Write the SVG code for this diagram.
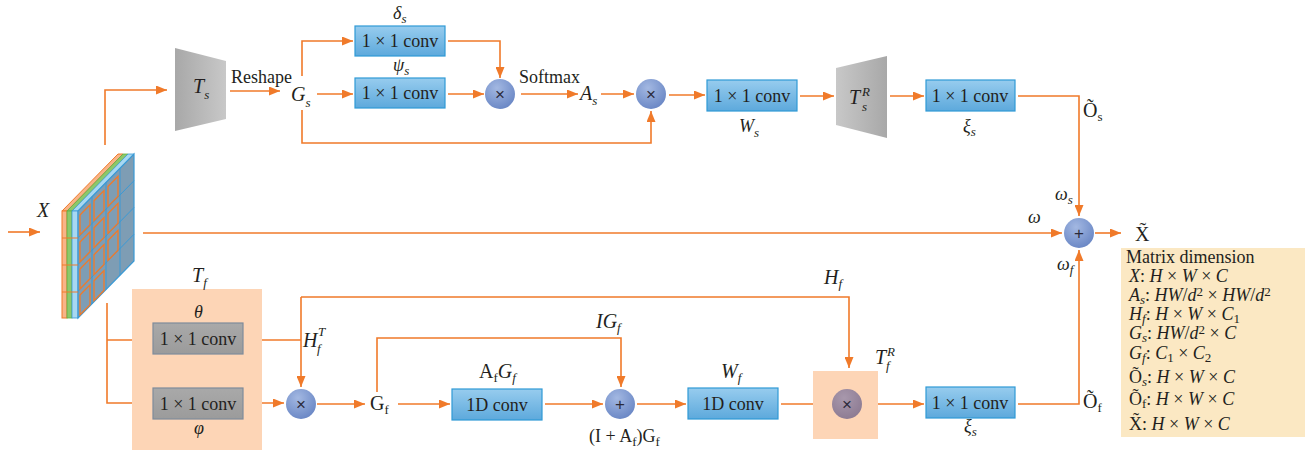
<svg xmlns="http://www.w3.org/2000/svg" width="1306" height="450" viewBox="0 0 1306 450">
<defs>
<style>
.o{stroke:#F07A2A;stroke-width:1.6;fill:none}
.a{marker-end:url(#ah)}
.bx{fill:url(#gBlue);stroke:#2F9AD6;stroke-width:1.2}
.gb{fill:url(#gGray);stroke:#7F8C9B;stroke-width:1.2}
.ci{fill:url(#gCirc)}
.t{font-family:"Liberation Serif","Times New Roman",serif;font-size:18px;fill:#231F20}
.big{font-size:20px}
.lg{font-size:18px}
.i{font-style:italic}
.m{text-anchor:middle}
.s{font-size:13px}
.op{font-family:"Liberation Sans",sans-serif;font-size:17px;fill:#2A2A3A;text-anchor:middle}
</style>
<marker id="ah" markerUnits="userSpaceOnUse" markerWidth="11" markerHeight="9" refX="11" refY="4.5" orient="auto">
<path d="M0,0 L11,4.5 L0,9 z" fill="#F07A2A"/>
</marker>
<linearGradient id="gBlue" x1="0" y1="0" x2="0" y2="1"><stop offset="0" stop-color="#97CCEE"/><stop offset="1" stop-color="#5DA9DC"/></linearGradient>
<linearGradient id="gGray" x1="0" y1="0" x2="0" y2="1"><stop offset="0" stop-color="#A9A9A9"/><stop offset="1" stop-color="#9B9B9B"/></linearGradient>
<linearGradient id="gTs" x1="0" y1="0" x2="1" y2="0"><stop offset="0" stop-color="#A8A8A8"/><stop offset="1" stop-color="#C8C8C8"/></linearGradient>
<linearGradient id="gTsR" x1="0" y1="0" x2="1" y2="0"><stop offset="0" stop-color="#C8C8C8"/><stop offset="1" stop-color="#A8A8A8"/></linearGradient>
<radialGradient id="gCirc" cx="0.4" cy="0.3" r="0.8"><stop offset="0" stop-color="#A3B8E2"/><stop offset="1" stop-color="#6482C2"/></radialGradient>
<radialGradient id="gCirc2" cx="0.4" cy="0.3" r="0.8"><stop offset="0" stop-color="#A898AC"/><stop offset="1" stop-color="#8A7890"/></radialGradient>
</defs>

<!-- Input tensor X -->
<g id="tensorX">
  <polygon points="62,211 67,211 123,154 118,154" fill="#F8B488" stroke="#F07A2A" stroke-width="1"/>
  <polygon points="67,211 72,211 128,154 123,154" fill="#8CC86A" stroke="#5FAF45" stroke-width="0.8"/>
  <polygon points="72,211 78,211 134,154 128,154" fill="#A8D8F2" stroke="#3A9AD6" stroke-width="0.8"/>
  <rect x="62" y="211" width="5" height="107" fill="#F8B488" stroke="#F07A2A" stroke-width="1"/>
  <rect x="67" y="211" width="5" height="107" fill="#8CC86A" stroke="#5FAF45" stroke-width="0.8"/>
  <rect x="72" y="211" width="6" height="107" fill="#A8D8F2" stroke="#3A9AD6" stroke-width="0.8"/>
  <g transform="matrix(1,-1.018,0,1,78,211)">
    <rect x="0" y="0" width="56" height="107" fill="#7E9DB4" stroke="#3A9AD6" stroke-width="1.2" vector-effect="non-scaling-stroke"/>
    <path d="M14,0 V107 M28,0 V107 M42,0 V107 M0,26.75 H56 M0,53.5 H56 M0,80.25 H56" stroke="#3A9AD6" stroke-width="1" fill="none" vector-effect="non-scaling-stroke"/>
    <g stroke="#F07A2A" stroke-width="1.3" fill="none">
      <rect x="2" y="6" width="10" height="20" vector-effect="non-scaling-stroke"/>
      <rect x="16" y="6" width="10" height="20" vector-effect="non-scaling-stroke"/>
      <rect x="30" y="6" width="10" height="20" vector-effect="non-scaling-stroke"/>
      <rect x="2" y="33" width="10" height="20" vector-effect="non-scaling-stroke"/>
      <rect x="16" y="33" width="10" height="20" vector-effect="non-scaling-stroke"/>
      <rect x="30" y="33" width="10" height="20" vector-effect="non-scaling-stroke"/>
      <rect x="2" y="60" width="10" height="20" vector-effect="non-scaling-stroke"/>
      <rect x="16" y="60" width="10" height="20" vector-effect="non-scaling-stroke"/>
      <rect x="30" y="60" width="10" height="20" vector-effect="non-scaling-stroke"/>
      <rect x="2" y="86" width="10" height="20" vector-effect="non-scaling-stroke"/>
      <rect x="16" y="86" width="10" height="20" vector-effect="non-scaling-stroke"/>
    </g>
  </g>
  <path d="M62,238 H78 M62,265 H78 M62,292 H78" stroke="#F07A2A" stroke-width="1"/>
  <text class="t i big" x="37" y="217">X</text>
</g>

<!-- Connectors -->
<g id="connectors">
  <path class="o a" d="M8,232 H40"/>
  <path class="o a" d="M105,145 V90 H167"/>
  <path class="o a" d="M230,91 H280"/>
  <path class="o a" d="M302,76 V41 H353"/>
  <path class="o a" d="M317,94 H353"/>
  <path class="o a" d="M302,110 V143 H651 V111"/>
  <path class="o a" d="M448,41 H500 V78"/>
  <path class="o a" d="M448,94 H484"/>
  <path class="o a" d="M521,94 H578"/>
  <path class="o a" d="M601,94 H634"/>
  <path class="o a" d="M669,95 H705"/>
  <path class="o a" d="M800,96 H834"/>
  <path class="o a" d="M890,96 H924"/>
  <path class="o a" d="M1018,96 H1079 V216"/>
  <path class="o a" d="M143,233 H1062"/>
  <path class="o a" d="M1095,233 H1121"/>
  <path class="o a" d="M107,303 V403 H151"/>
  <path class="o a" d="M107,340 H151"/>
  <path class="o" d="M250,340 H301"/>
  <path class="o a" d="M301,297 V387"/>
  <path class="o a" d="M301,297 H849 V368"/>
  <path class="o a" d="M250,403 H284"/>
  <path class="o a" d="M317,404 H365"/>
  <path class="o a" d="M377,392 V338 H621 V387"/>
  <path class="o a" d="M398,404 H450"/>
  <path class="o a" d="M545,404 H603"/>
  <path class="o a" d="M637,404 H686"/>
  <path class="o a" d="M781,404 H830"/>
  <path class="o a" d="M865,404 H924"/>
  <path class="o a" d="M1018,404 H1079 V250"/>
</g>

<!-- Top branch -->
<g id="Ts">
  <polygon points="175,48 226,61 226,119 175,131" fill="url(#gTs)"/>
  <text class="t i big" x="193" y="93">T<tspan class="s" dy="6">s</tspan></text>
</g>
<g id="reshape"><text class="t" x="231" y="83">Reshape</text></g>
<g id="Gs"><text class="t i big" x="291" y="101">G<tspan class="s" dy="6">s</tspan></text></g>
<g id="delta">
  <rect class="bx" x="355" y="26" width="90" height="30"/>
  <text class="t m" x="400" y="47">1 × 1 conv</text>
  <text class="t i" x="393" y="19">δ<tspan class="s" dy="4">s</tspan></text>
</g>
<g id="psi">
  <rect class="bx" x="355" y="78" width="90" height="30"/>
  <text class="t m" x="400" y="99">1 × 1 conv</text>
  <text class="t i" x="393" y="71">ψ<tspan class="s" dy="4">s</tspan></text>
</g>
<g id="mul1"><circle class="ci" cx="500" cy="94" r="15"/><text class="op" x="500" y="100">×</text></g>
<g id="softmax"><text class="t" x="519" y="83">Softmax</text></g>
<g id="As"><text class="t i big" x="580" y="100">A<tspan class="s" dy="5">s</tspan></text></g>
<g id="mul2"><circle class="ci" cx="651" cy="94" r="15"/><text class="op" x="651" y="100">×</text></g>
<g id="Ws">
  <rect class="bx" x="707" y="80" width="90" height="31"/>
  <text class="t m" x="752" y="102">1 × 1 conv</text>
  <text class="t i" x="739" y="132">W<tspan class="s" dy="5">s</tspan></text>
</g>
<g id="TsR">
  <polygon points="836,68 887,56 887,138 836,125" fill="url(#gTsR)"/>
  <text class="t i big" x="849" y="104">T</text>
  <text class="t i s" x="862" y="96">R</text>
  <text class="t i s" x="862" y="111">s</text>
</g>
<g id="xi_top">
  <rect class="bx" x="926" y="80" width="89" height="31"/>
  <text class="t m" x="970" y="102">1 × 1 conv</text>
  <text class="t i" x="963" y="132">ξ<tspan class="s" dy="4">s</tspan></text>
</g>
<g id="Os"><text class="t big" x="1083" y="117">Õ<tspan class="s" dy="4">s</tspan></text></g>

<!-- Fusion -->
<g id="sum">
  <circle class="ci" cx="1079" cy="233" r="15"/><text class="op" x="1079" y="239">+</text>
  <text class="t i" x="1055" y="200">ω<tspan class="s" dy="4">s</tspan></text>
  <text class="t i" x="1028" y="223">ω</text>
  <text class="t i" x="1057" y="270">ω<tspan class="s" dy="4">f</tspan></text>
</g>
<g id="Xout"><text class="t big" x="1135" y="241">X̃</text></g>

<!-- Bottom branch -->
<g id="Tf">
  <rect x="132" y="289" width="130" height="161" fill="#FDD5B6"/>
  <text class="t i big" x="192" y="282">T<tspan class="s" dy="5">f</tspan></text>
  <rect class="gb" x="153" y="323" width="90" height="31"/>
  <text class="t m" x="198" y="345">1 × 1 conv</text>
  <text class="t i" x="194" y="318">θ</text>
  <rect class="gb" x="153" y="388" width="90" height="31"/>
  <text class="t m" x="198" y="410">1 × 1 conv</text>
  <text class="t i" x="194" y="434">φ</text>
</g>
<g id="HfT">
  <text class="t i big" x="303" y="347">H</text>
  <text class="t i s" x="318" y="336">T</text>
  <text class="t i s" x="317" y="353">f</text>
</g>
<g id="mul3"><circle class="ci" cx="301" cy="404" r="15"/><text class="op" x="301" y="410">×</text></g>
<g id="Gf"><text class="t big" x="370" y="410">G<tspan class="s" dy="4">f</tspan></text></g>
<g id="IGf"><text class="t i big" x="596" y="328">IG<tspan class="s" dy="4">f</tspan></text></g>
<g id="conv1d1">
  <rect class="bx" x="452" y="389" width="90" height="31"/>
  <text class="t m" x="497" y="411">1D conv</text>
  <text class="t big" x="479" y="378">A<tspan class="s" dy="4">f</tspan><tspan class="i" dy="-4">G</tspan><tspan class="s i" dy="4">f</tspan></text>
</g>
<g id="add2">
  <circle class="ci" cx="620" cy="404" r="15"/><text class="op" x="620" y="410">+</text>
  <text class="t" x="589" y="442">(I + A<tspan class="s" dy="4">f</tspan><tspan dy="-4">)G</tspan><tspan class="s" dy="4">f</tspan></text>
</g>
<g id="conv1d2">
  <rect class="bx" x="688" y="388" width="90" height="31"/>
  <text class="t m" x="733" y="410">1D conv</text>
  <text class="t i big" x="721" y="378">W<tspan class="s" dy="4">f</tspan></text>
</g>
<g id="Hf"><text class="t i big" x="824" y="284">H<tspan class="s" dy="4">f</tspan></text></g>
<g id="TfR">
  <rect x="813" y="371" width="65" height="68" fill="#FDD5B6"/>
  <circle cx="847" cy="404" r="15" fill="url(#gCirc2)"/><text class="op" x="847" y="410">×</text>
  <text class="t i big" x="875" y="364">T</text>
  <text class="t i s" x="887" y="356">R</text>
  <text class="t i s" x="886" y="370">f</text>
</g>
<g id="xi_bot">
  <rect class="bx" x="926" y="387" width="89" height="31"/>
  <text class="t m" x="970" y="409">1 × 1 conv</text>
  <text class="t i" x="964" y="432">ξ<tspan class="s" dy="4">s</tspan></text>
</g>
<g id="Of"><text class="t big" x="1083" y="408">Õ<tspan class="s" dy="4">f</tspan></text></g>

<!-- Legend -->
<g id="legend">
  <rect x="1121" y="248" width="184" height="189" fill="#FBE8C3"/>
  <text class="t lg" x="1126" y="263">Matrix dimension</text>
  <text class="t lg" x="1129" y="282"><tspan class="i">X</tspan>: <tspan class="i">H</tspan> × <tspan class="i">W</tspan> × <tspan class="i">C</tspan></text>
  <text class="t lg" x="1129" y="301"><tspan class="i">A</tspan><tspan class="i s" dy="3">s</tspan><tspan dy="-3">: </tspan><tspan class="i">HW</tspan>/<tspan class="i">d</tspan><tspan class="s" dy="-5">2</tspan><tspan dy="5"> × </tspan><tspan class="i">HW</tspan>/<tspan class="i">d</tspan><tspan class="s" dy="-5">2</tspan></text>
  <text class="t lg" x="1129" y="320"><tspan class="i">H</tspan><tspan class="i s" dy="3">f</tspan><tspan dy="-3">: </tspan><tspan class="i">H</tspan> × <tspan class="i">W</tspan> × <tspan class="i">C</tspan><tspan class="s" dy="3">1</tspan></text>
  <text class="t lg" x="1129" y="339"><tspan class="i">G</tspan><tspan class="i s" dy="3">s</tspan><tspan dy="-3">: </tspan><tspan class="i">HW</tspan>/<tspan class="i">d</tspan><tspan class="s" dy="-5">2</tspan><tspan dy="5"> × </tspan><tspan class="i">C</tspan></text>
  <text class="t lg" x="1129" y="359"><tspan class="i">G</tspan><tspan class="i s" dy="3">f</tspan><tspan dy="-3">: </tspan><tspan class="i">C</tspan><tspan class="s" dy="3">1</tspan><tspan dy="-3"> × </tspan><tspan class="i">C</tspan><tspan class="s" dy="3">2</tspan></text>
  <text class="t lg" x="1129" y="383">Õ<tspan class="i s" dy="3">s</tspan><tspan dy="-3">: </tspan><tspan class="i">H</tspan> × <tspan class="i">W</tspan> × <tspan class="i">C</tspan></text>
  <text class="t lg" x="1129" y="405">Õ<tspan class="s" dy="3">f</tspan><tspan dy="-3">: </tspan><tspan class="i">H</tspan> × <tspan class="i">W</tspan> × <tspan class="i">C</tspan></text>
  <text class="t lg" x="1129" y="430">X̃: <tspan class="i">H</tspan> × <tspan class="i">W</tspan> × <tspan class="i">C</tspan></text>
</g>
</svg>
